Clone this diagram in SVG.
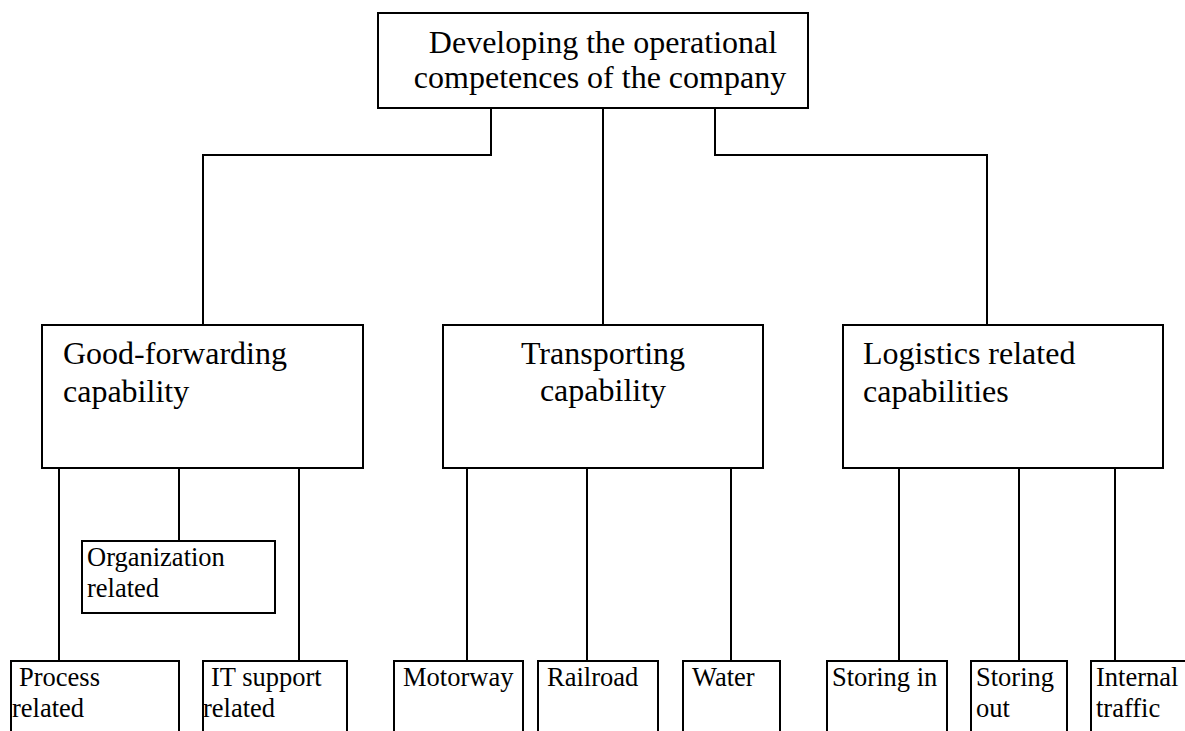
<svg xmlns="http://www.w3.org/2000/svg" width="1185" height="731" viewBox="0 0 1185 731">
  <style>
    .box { fill: #ffffff; stroke: #000000; stroke-width: 2; }
    .link { fill: none; stroke: #000000; stroke-width: 2; }
    .big { font-family: "Liberation Serif", "Times New Roman", serif; font-size: 32px; fill: #000000; }
    .small { font-family: "Liberation Serif", "Times New Roman", serif; font-size: 26.5px; fill: #000000; }
    .mid { text-anchor: middle; }
  </style>
  <rect width="1185" height="731" fill="#ffffff"/>

  <!-- connectors -->
  <g id="connectors" class="link">
    <polyline points="491,108 491,155 203,155 203,325"/>
    <line x1="603" y1="108" x2="603" y2="325"/>
    <polyline points="715,108 715,155 987,155 987,325"/>
    <line x1="59" y1="468" x2="59" y2="661"/>
    <line x1="179" y1="468" x2="179" y2="541"/>
    <line x1="299" y1="468" x2="299" y2="661"/>
    <line x1="467" y1="468" x2="467" y2="661"/>
    <line x1="587" y1="468" x2="587" y2="661"/>
    <line x1="731" y1="468" x2="731" y2="661"/>
    <line x1="899" y1="468" x2="899" y2="661"/>
    <line x1="1019" y1="468" x2="1019" y2="661"/>
    <line x1="1115" y1="468" x2="1115" y2="661"/>
  </g>

  <!-- root -->
  <g id="root">
    <rect class="box" x="378" y="13" width="430" height="95"/>
    <text class="big mid" x="603" y="53">Developing the operational</text>
    <text class="big mid" x="600" y="88">competences of the company</text>
  </g>

  <!-- second level -->
  <g id="good-forwarding">
    <rect class="box" x="42" y="325" width="321" height="143"/>
    <text class="big" x="63" y="364">Good-forwarding</text>
    <text class="big" x="63" y="402">capability</text>
  </g>
  <g id="transporting">
    <rect class="box" x="443" y="325" width="320" height="143"/>
    <text class="big mid" x="603" y="364">Transporting</text>
    <text class="big mid" x="603" y="401">capability</text>
  </g>
  <g id="logistics">
    <rect class="box" x="843" y="325" width="320" height="143"/>
    <text class="big" x="863" y="364">Logistics related</text>
    <text class="big" x="863" y="402">capabilities</text>
  </g>

  <!-- third level -->
  <g id="organization">
    <rect class="box" x="82" y="541" width="193" height="72"/>
    <text class="small" x="87" y="566">Organization</text>
    <text class="small" x="87" y="597">related</text>
  </g>
  <g id="process">
    <rect class="box" x="11" y="661" width="168" height="90"/>
    <text class="small" x="19" y="686">Process</text>
    <text class="small" x="12" y="717">related</text>
  </g>
  <g id="it-support">
    <rect class="box" x="203" y="661" width="144" height="90"/>
    <text class="small" x="211" y="686">IT support</text>
    <text class="small" x="203" y="717">related</text>
  </g>
  <g id="motorway">
    <rect class="box" x="394" y="661" width="129" height="90"/>
    <text class="small" x="403" y="686">Motorway</text>
  </g>
  <g id="railroad">
    <rect class="box" x="538" y="661" width="120" height="90"/>
    <text class="small" x="547" y="686">Railroad</text>
  </g>
  <g id="water">
    <rect class="box" x="683" y="661" width="97" height="90"/>
    <text class="small" x="692" y="686">Water</text>
  </g>
  <g id="storing-in">
    <rect class="box" x="827" y="661" width="120" height="90"/>
    <text class="small" x="832" y="686">Storing in</text>
  </g>
  <g id="storing-out">
    <rect class="box" x="971" y="661" width="96" height="90"/>
    <text class="small" x="976" y="686">Storing</text>
    <text class="small" x="976" y="717">out</text>
  </g>
  <g id="internal-traffic">
    <rect class="box" x="1091" y="661" width="110" height="90"/>
    <text class="small" x="1096" y="686">Internal</text>
    <text class="small" x="1096" y="717">traffic</text>
  </g>
</svg>
